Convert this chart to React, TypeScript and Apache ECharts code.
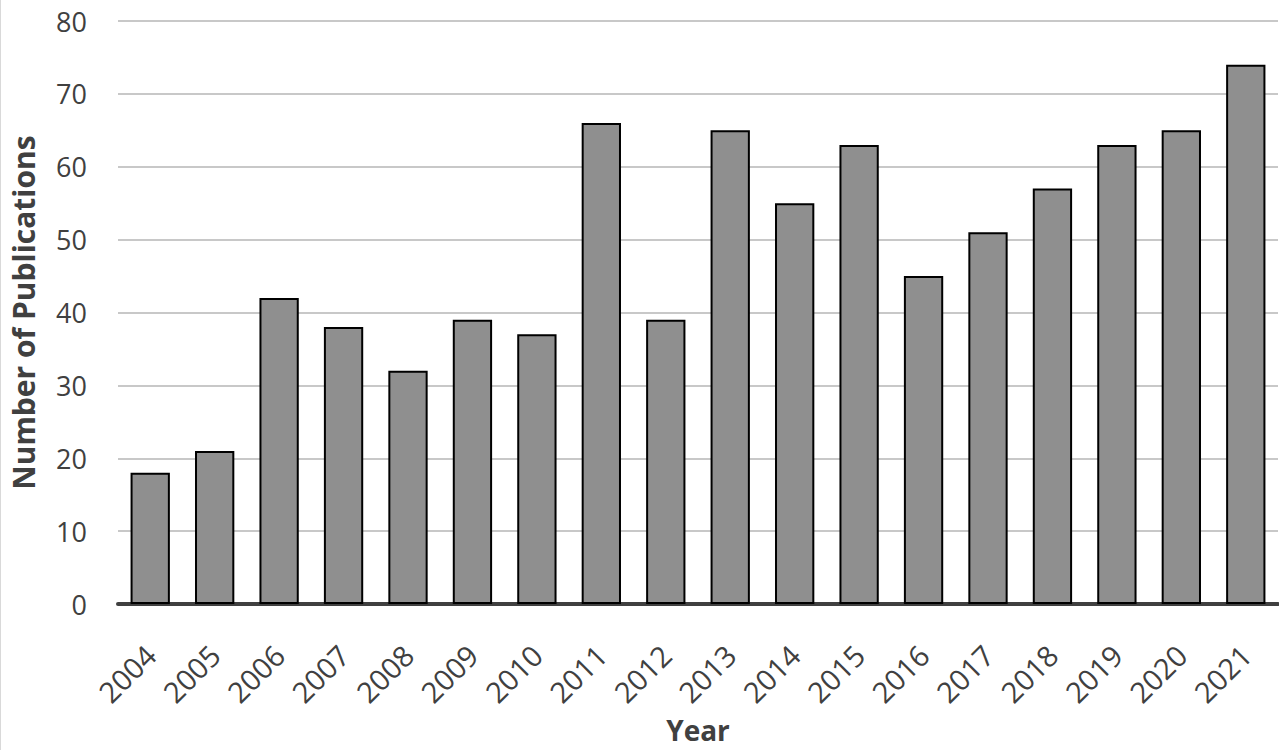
import React, { useEffect, useRef } from "react";
import * as echarts from "echarts";

const years = ["2004","2005","2006","2007","2008","2009","2010","2011","2012","2013","2014","2015","2016","2017","2018","2019","2020","2021"];
const publications = [18, 21, 42, 38, 32, 39, 37, 66, 39, 65, 55, 63, 45, 51, 57, 63, 65, 74];

export default function App() {
  const ref = useRef<HTMLDivElement>(null);
  useEffect(() => {
    if (!ref.current) return;
    const chart = echarts.init(ref.current, null, { renderer: "svg" });
    const font = "'Open Sans', 'Noto Sans', sans-serif";
    chart.setOption({
      animation: false,
      backgroundColor: "#ffffff",
      textStyle: { fontFamily: font },
      grid: { left: 118, right: 1, top: 21, bottom: 146, containLabel: false },
      graphic: [
        { type: "line", shape: { x1: 0.5, y1: 0, x2: 0.5, y2: 750 }, style: { stroke: "#d9d9d9", lineWidth: 1 } }
      ],
      xAxis: {
        type: "category",
        data: years,
        name: "Year",
        nameLocation: "middle",
        nameGap: 112,
        nameTextStyle: { fontSize: 28, fontWeight: "bold", color: "#404040", fontFamily: font },
        axisLine: { show: true, lineStyle: { color: "#404040", width: 4 } },
        axisTick: { show: false },
        axisLabel: { rotate: 45, fontSize: 29, color: "#404040", margin: 46, fontFamily: font, interval: 0 }
      },
      yAxis: {
        type: "value",
        min: 0,
        max: 80,
        interval: 10,
        name: "Number of Publications",
        nameLocation: "middle",
        nameGap: 80,
        nameTextStyle: { fontSize: 30, fontWeight: "bold", color: "#404040", fontFamily: font },
        axisLine: { show: false },
        axisTick: { show: false },
        axisLabel: { fontSize: 27, color: "#404040", margin: 31, fontFamily: font },
        splitLine: { lineStyle: { color: "#c8c8c8", width: 2 } }
      },
      series: [
        {
          type: "bar",
          data: publications,
          barCategoryGap: "39%",
          itemStyle: { color: "#8f8f8f", borderColor: "#000000", borderWidth: 2 }
        }
      ]
    });
    return () => chart.dispose();
  }, []);
  return <div ref={ref} style={{ position: "fixed", left: 0, top: 0, width: 1279, height: 750 }} />;
}
